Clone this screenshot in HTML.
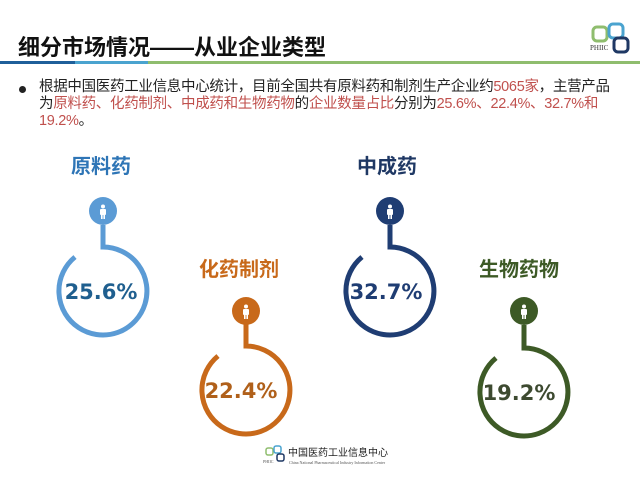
<!DOCTYPE html>
<html><head><meta charset="utf-8"><style>
html,body{margin:0;padding:0;background:#fff;}
body{width:640px;height:480px;position:relative;overflow:hidden;font-family:"Liberation Sans","Noto Sans CJK SC",sans-serif;}
.t{position:absolute;white-space:nowrap;}
.r{color:#c0504d;}
</style></head><body>
<div class="t" style="left:18px;top:30px;font-size:22px;font-weight:bold;color:#111;">细分市场情况——从业企业类型</div>
<div style="position:absolute;left:0;top:61px;width:75px;height:3px;background:#1f5f9a"></div>
<div style="position:absolute;left:75px;top:61px;width:73px;height:3px;background:#4aa3cf"></div>
<div style="position:absolute;left:148px;top:61px;width:492px;height:3px;background:#8fbd6e"></div>
<svg style="position:absolute;left:590px;top:22px" width="50" height="40">
<rect x="3" y="5" width="14" height="14" rx="4" fill="none" stroke="#8fbd6e" stroke-width="3"/>
<rect x="19" y="2" width="14" height="14" rx="4" fill="none" stroke="#4aa3cf" stroke-width="3"/>
<rect x="24" y="16" width="14" height="14" rx="4" fill="none" stroke="#1f3864" stroke-width="3"/>
<text x="0" y="28" font-size="7" font-family="Liberation Serif" fill="#333">PHIIC</text>
</svg>
<div style="position:absolute;left:19px;top:86px;width:7px;height:7px;border-radius:50%;background:#222"></div>
<div class="t" style="left:39px;top:79px;font-size:14.5px;line-height:17px;color:#222;letter-spacing:-0.3px">根据中国医药工业信息中心统计，目前全国共有原料药和制剂生产企业约<span class="r">5065家</span>，主营产品<br>为<span class="r">原料药、化药制剂、中成药和生物药物</span>的<span class="r">企业数量占比</span>分别为<span class="r">25.6%、22.4%、32.7%和</span><br><span class="r">19.2%</span>。</div>

<div class="t" style="left:71px;top:150px;font-size:20px;font-weight:bold;color:#2e75b6">原料药</div>
<div class="t" style="left:199px;top:253px;font-size:20px;font-weight:bold;color:#c8691a">化药制剂</div>
<div class="t" style="left:357px;top:150px;font-size:20px;font-weight:bold;color:#1f3864">中成药</div>
<div class="t" style="left:479px;top:253px;font-size:20px;font-weight:bold;color:#3d5a26">生物药物</div>

<svg style="position:absolute;left:0;top:0" width="640" height="480">
<defs>
<g id="p">
<circle cx="0" cy="-4.5" r="2" fill="#fff"/>
<rect x="-3" y="-2" width="6" height="6" rx="1" fill="#fff"/>
<rect x="-2" y="3" width="1.6" height="5" fill="#fff"/>
<rect x="0.4" y="3" width="1.6" height="5" fill="#fff"/>
</g>
</defs>
<g font-family="DejaVu Sans, Liberation Sans, sans-serif" font-weight="bold" font-size="21" text-anchor="middle">
<g stroke="#5b9bd5" fill="none" stroke-width="5">
<path d="M103 225 V247 A44 44 0 1 1 75 257"/>
</g>
<circle cx="103" cy="211" r="14" fill="#5b9bd5"/><use href="#p" x="103" y="211"/>
<text x="101" y="299" fill="#1f5f8f">25.6%</text>
<g stroke="#c8691a" fill="none" stroke-width="5">
<path d="M246 324 V346 A44 44 0 1 1 218 356"/>
</g>
<circle cx="246" cy="311" r="14" fill="#c8691a"/><use href="#p" x="246" y="311"/>
<text x="241" y="398" fill="#b0601a">22.4%</text>
<g stroke="#1f3d73" fill="none" stroke-width="5">
<path d="M390 225 V247 A44 44 0 1 1 362 257"/>
</g>
<circle cx="390" cy="211" r="14" fill="#1f3d73"/><use href="#p" x="390" y="211"/>
<text x="386" y="299" fill="#1f3d73">32.7%</text>
<g stroke="#3d5a26" fill="none" stroke-width="5">
<path d="M524 325 V348 A44 44 0 1 1 496 358"/>
</g>
<circle cx="524" cy="311" r="14" fill="#3d5a26"/><use href="#p" x="524" y="311"/>
<text x="519" y="400" fill="#3d4a30">19.2%</text>
</g>
<rect x="266" y="448" width="7" height="7" rx="2" fill="none" stroke="#8fbd6e" stroke-width="1.5"/>
<rect x="274" y="446" width="7" height="7" rx="2" fill="none" stroke="#4aa3cf" stroke-width="1.5"/>
<rect x="277" y="454" width="7" height="7" rx="2" fill="none" stroke="#1f3864" stroke-width="1.5"/>
<text x="263" y="463" font-size="4" fill="#555" font-family="Liberation Serif">PHIIC</text>
<text x="288" y="456" font-size="10" fill="#222" font-family="Noto Sans CJK SC, sans-serif">中国医药工业信息中心</text>
<text x="289" y="464" font-size="4" fill="#555" font-family="Liberation Serif">China National Pharmaceutical Industry Information Center</text>
</svg>
</body></html>
